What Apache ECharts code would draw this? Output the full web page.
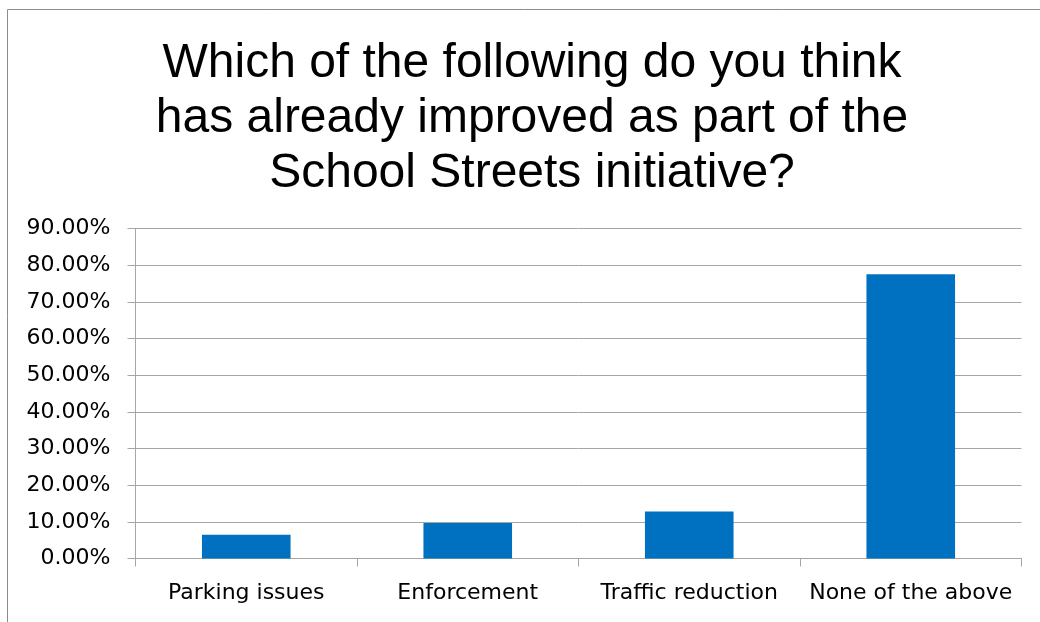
<!DOCTYPE html>
<html>
<head>
<meta charset="utf-8">
<script src="https://cdn.jsdelivr.net/npm/echarts@6/dist/echarts.min.js"></script>
<style>
html,body{margin:0;padding:0;background:#fff;}
#chart{width:1040px;height:622px;}
</style>
</head>
<body>
<div id="chart"></div>
<script>
const titleText = "Which of the following do you think\nhas already improved as part of the\nSchool Streets initiative?";
const categories = ["Parking issues", "Enforcement", "Traffic reduction", "None of the above"];
const values = [0.0645, 0.0965, 0.128, 0.775];
const yMin = 0, yMax = 0.9, yStep = 0.1;

const chart = echarts.init(document.getElementById('chart'), null, {renderer: 'canvas'});
chart.setOption({
  animation: false,
  backgroundColor: '#ffffff',
  title: {
    text: titleText,
    left: 527,
    top: 31,
    textAlign: 'center',
    textStyle: {
      fontFamily: 'Liberation Sans, Arial, sans-serif',
      fontSize: 48,
      fontWeight: 'normal',
      color: '#000000',
      lineHeight: 55
    }
  },
  graphic: [{
    type: 'rect',
    shape: {x: 7.5, y: 9.5, width: 1200, height: 800},
    style: {fill: 'none', stroke: '#8c8c8c', lineWidth: 1},
    silent: true
  }],
  grid: {left: 135.5, right: 18.5, top: 228.5, bottom: 63.5, containLabel: false},
  xAxis: {
    type: 'category',
    data: categories,
    boundaryGap: true,
    axisLine: {show: true, lineStyle: {color: '#a6a6a6', width: 1}},
    axisTick: {show: true, alignWithLabel: false, length: 8, lineStyle: {color: '#a6a6a6'}},
    axisLabel: {
      interval: 0,
      margin: 24,
      fontFamily: 'DejaVu Sans, sans-serif',
      fontSize: 22,
      color: '#000000'
    },
    splitLine: {show: false}
  },
  yAxis: {
    type: 'value',
    min: yMin,
    max: yMax,
    interval: yStep,
    axisLine: {show: true, lineStyle: {color: '#a6a6a6', width: 1}},
    axisTick: {show: true, length: 8, lineStyle: {color: '#a6a6a6'}},
    axisLabel: {
      margin: 25,
      fontFamily: 'DejaVu Sans, sans-serif',
      fontSize: 22,
      color: '#000000',
      formatter: v => (v * 100).toFixed(2) + '%'
    },
    splitLine: {show: true, lineStyle: {color: '#a6a6a6', width: 1}}
  },
  series: [{
    type: 'bar',
    data: values,
    barWidth: '40%',
    itemStyle: {color: '#0070c0'}
  }]
});
</script>
</body>
</html>
